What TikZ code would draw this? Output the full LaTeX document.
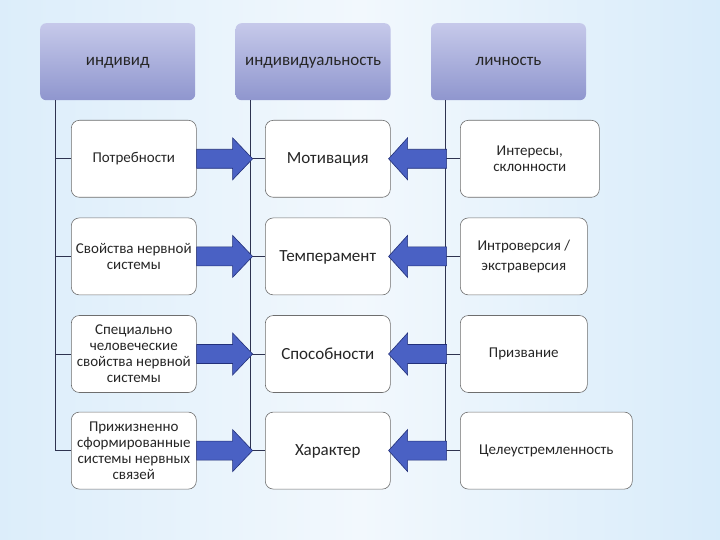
\documentclass[tikz,border=0pt]{standalone}
\usepackage{fontspec}
\setmainfont{Carlito}
\usetikzlibrary{positioning}

\definecolor{bgedge}{HTML}{92C9EF}
\definecolor{bgsoft}{HTML}{D3E9F9}
\definecolor{bgmid}{HTML}{F2F8FD}
\definecolor{hdtop}{HTML}{C6C9EA}
\definecolor{hdbot}{HTML}{8F96CE}
\definecolor{boxline}{HTML}{6E6E6E}
\definecolor{treeline}{HTML}{2E3350}
\definecolor{arrowfill}{HTML}{4A61C4}
\definecolor{arrowline}{HTML}{22307A}

\pgfdeclarehorizontalshading{slidebg}{100bp}{color(0bp)=(bgedge); color(15bp)=(bgsoft); color(50bp)=(bgmid); color(80bp)=(bgsoft); color(100bp)=(bgedge)}

\begin{document}
\begin{tikzpicture}[x=1pt,y=-1pt,node distance=20pt,
  hdr/.style={minimum width=155pt,minimum height=77pt,rounded corners=6pt,
    top color=hdtop,bottom color=hdbot,text=black!85,text height=7pt,text depth=0pt,
    font=\fontsize{17}{19}\selectfont},
  trait/.style={draw=boxline,line width=0.6pt,fill=white,rounded corners=8pt,
    minimum width=125pt,minimum height=77pt,align=center,text=black!85,
    inner sep=2pt,font=\fontsize{15}{16}\selectfont},
  core/.style={trait,text height=10pt,text depth=0pt,font=\fontsize{17}{19}\selectfont},
  tree/.style={draw=treeline,line width=0.7pt},
  barrow/.style={fill=arrowfill,draw=arrowline,line width=0.6pt}]

  % background
  \shade[shading=slidebg] (0,0) rectangle (720,540);
  \useasboundingbox (0,0) rectangle (720,540);

  % headers
  \node[hdr,anchor=north west] (ind) at (40,23) {индивид};
  \node[hdr,right=40pt of ind] (indiv) {индивидуальность};
  \node[hdr,right=40pt of indiv] (lich) {личность};

  % left column
  \node[trait,anchor=north west] (a1) at (71,120) {Потребности};
  \node[trait,below=of a1] (a2) {Свойства нервной\\системы};
  \node[trait,below=of a2] (a3) {Специально\\человеческие\\свойства нервной\\системы};
  \node[trait,below=19pt of a3] (a4) {Прижизненно\\сформированные\\системы нервных\\связей};

  % middle column
  \node[core,anchor=north west] (b1) at (265,120) {Мотивация};
  \node[core,below=of b1] (b2) {Темперамент};
  \node[core,below=of b2] (b3) {Способности};
  \node[core,below=19pt of b3] (b4) {Характер};

  % right column
  \node[trait,anchor=north west,minimum width=139pt] (c1) at (460,120) {Интересы,\\склонности};
  \node[trait,minimum width=127pt,below=20pt of c1.south west,anchor=north west] (c2) {Интроверсия /\\[4pt]экстраверсия};
  \node[trait,minimum width=127pt,below=20pt of c2.south west,anchor=north west] (c3) {Призвание};
  \node[trait,minimum width=172pt,below=19pt of c3.south west,anchor=north west] (c4) {Целеустремленность};

  % tree lines
  \path (ind.south west) ++(15,0) coordinate (t1);
  \path (indiv.south west) ++(15,0) coordinate (t2);
  \path (lich.south west) ++(15,0) coordinate (t3);
  \draw[tree] (t1) |- (a4.west);
  \draw[tree] (t2) |- (b4.west);
  \draw[tree] (t3) |- (c4.west);
  \foreach \i in {1,2,3} {
    \draw[tree] (t1 |- a\i.west) -- (a\i.west);
    \draw[tree] (t2 |- b\i.west) -- (b\i.west);
    \draw[tree] (t3 |- c\i.west) -- (c\i.west);
  }

  % block arrows
  \foreach \i in {1,2,3,4} {
    \draw[barrow] (a\i.east) ++(0,-9.5) -- ++(36,0) -- ++(0,-11.5) -- ++(20,21)
      -- ++(-20,21) -- ++(0,-11.5) -- ++(-36,0) -- cycle;
    \draw[barrow] (b\i.east) ++(-2,0) -- ++(19,-21) -- ++(0,11.5) -- ++(39,0)
      -- ++(0,19) -- ++(-39,0) -- ++(0,11.5) -- cycle;
  }
\end{tikzpicture}
\end{document}
